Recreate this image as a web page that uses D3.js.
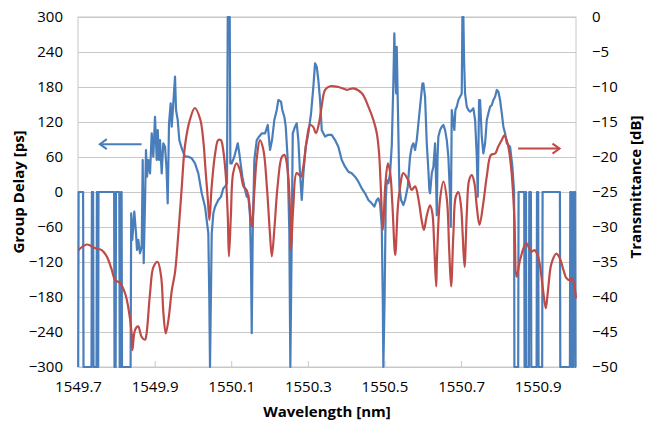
<!DOCTYPE html>
<html>
<head>
<meta charset="utf-8">
<script src="https://d3js.org/d3.v7.min.js"></script>
<style>
  body { margin: 0; background: #fff; }
  text { font-family: "Open Sans", sans-serif; fill: #000; }
</style>
</head>
<body>
<svg id="chart" width="651" height="426"></svg>
<script>
// tick labels
const xTicks = [1549.7, 1549.9, 1550.1, 1550.3, 1550.5, 1550.7, 1550.9];
const gdTicks = [-300, -240, -180, -120, -60, 0, 60, 120, 180, 240, 300];
const tTicks = [-50, -45, -40, -35, -30, -25, -20, -15, -10, -5, 0];

// transmittance [dB] (red, right axis)
const tWavelength = [
  1549.701, 1549.723, 1549.744, 1549.762, 1549.775, 1549.788, 1549.797, 1549.810, 1549.823, 1549.831,
  1549.840, 1549.842, 1549.849, 1549.857, 1549.866, 1549.875, 1549.879, 1549.888, 1549.897, 1549.908,
  1549.917, 1549.923, 1549.929, 1549.936, 1549.945, 1549.953, 1549.962, 1549.971, 1549.979, 1549.992,
  1550.005, 1550.019, 1550.027, 1550.033, 1550.039, 1550.043, 1550.049, 1550.058, 1550.066, 1550.073,
  1550.079, 1550.086, 1550.091, 1550.094, 1550.099, 1550.105, 1550.114, 1550.123, 1550.132, 1550.140,
  1550.146, 1550.154, 1550.160, 1550.167, 1550.175, 1550.184, 1550.193, 1550.201, 1550.206, 1550.213,
  1550.221, 1550.232, 1550.239, 1550.248, 1550.254, 1550.256, 1550.262, 1550.271, 1550.282, 1550.288,
  1550.297, 1550.306, 1550.314, 1550.321, 1550.329, 1550.336, 1550.345, 1550.358, 1550.380, 1550.402,
  1550.419, 1550.441, 1550.458, 1550.471, 1550.480, 1550.486, 1550.490, 1550.496, 1550.502, 1550.509,
  1550.515, 1550.521, 1550.528, 1550.535, 1550.541, 1550.549, 1550.562, 1550.571, 1550.580, 1550.589,
  1550.597, 1550.603, 1550.610, 1550.619, 1550.625, 1550.630, 1550.635, 1550.637, 1550.645, 1550.654,
  1550.663, 1550.669, 1550.674, 1550.680, 1550.686, 1550.693, 1550.700, 1550.704, 1550.709, 1550.715,
  1550.721, 1550.728, 1550.735, 1550.741, 1550.748, 1550.758, 1550.767, 1550.778, 1550.789, 1550.797,
  1550.806, 1550.813, 1550.819, 1550.825, 1550.832, 1550.839, 1550.845, 1550.854, 1550.870, 1550.883,
  1550.892, 1550.899, 1550.905, 1550.914, 1550.921, 1550.927, 1550.936, 1550.949, 1550.958, 1550.967,
  1550.975, 1550.984, 1550.990, 1550.996, 1551.000
];
const tValues = [
  -33.3, -32.5, -33.0, -33.3, -34.2, -36.1, -37.6, -38.0, -39.5, -41.4,
  -45.2, -47.6, -44.7, -44.2, -45.7, -46.1, -45.2, -39.5, -35.7, -35.0,
  -37.1, -42.3, -45.2, -43.3, -39.0, -36.6, -30.9, -24.2, -18.5, -14.7,
  -13.0, -14.6, -17.6, -21.9, -26.1, -29.0, -24.2, -19.5, -17.6, -17.6,
  -19.0, -22.8, -28.5, -34.2, -28.5, -22.3, -20.9, -21.9, -24.2, -24.7,
  -26.1, -30.0, -25.2, -20.0, -17.6, -19.0, -24.2, -30.9, -34.2, -30.0,
  -24.2, -20.0, -19.7, -22.3, -28.5, -33.3, -27.1, -22.3, -22.8, -21.4,
  -17.6, -15.4, -15.7, -16.6, -15.2, -12.8, -10.4, -9.9, -10.0, -10.4,
  -10.2, -10.9, -12.8, -14.7, -16.6, -19.5, -23.8, -30.4, -24.2, -20.9,
  -22.3, -27.1, -34.0, -27.1, -24.2, -22.3, -23.3, -24.7, -24.2, -26.1,
  -29.0, -30.4, -28.5, -26.9, -28.0, -32.8, -38.5, -34.7, -26.1, -23.5,
  -26.1, -33.3, -38.5, -30.9, -25.7, -25.0, -27.1, -30.9, -35.7, -28.0,
  -23.3, -22.6, -23.8, -27.1, -29.7, -26.6, -22.8, -19.7, -19.5, -18.5,
  -17.6, -16.9, -17.6, -19.0, -22.3, -28.5, -37.1, -34.7, -32.3, -33.5,
  -33.3, -33.9, -35.2, -39.0, -41.6, -39.0, -35.2, -33.8, -34.5, -36.1,
  -37.3, -37.6, -37.3, -38.5, -40.2
];

// group delay [ps] (blue, left axis)
const gdWavelength = [
  1549.7005, 1549.7016, 1549.7133, 1549.7144, 1549.7352, 1549.7363, 1549.7394, 1549.7405, 1549.7483, 1549.7493,
  1549.7512, 1549.7520, 1549.7527, 1549.7535, 1549.7943, 1549.7953, 1549.7982, 1549.7992, 1549.8078, 1549.8089,
  1549.8117, 1549.8128, 1549.8138, 1549.8149, 1549.8373, 1549.8389, 1549.8418, 1549.8470, 1549.8514, 1549.8540,
  1549.8574, 1549.8619, 1549.8663, 1549.8689, 1549.8715, 1549.8749, 1549.8775, 1549.8802, 1549.8836, 1549.8880,
  1549.8924, 1549.8966, 1549.9010, 1549.9055, 1549.9081, 1549.9115, 1549.9141, 1549.9185, 1549.9227, 1549.9272,
  1549.9311, 1549.9342, 1549.9376, 1549.9420, 1549.9446, 1549.9488, 1549.9533, 1549.9559, 1549.9603, 1549.9645,
  1549.9708, 1549.9794, 1549.9880, 1549.9969, 1550.0055, 1550.0141, 1550.0230, 1550.0316, 1550.0402, 1550.0428,
  1550.0446, 1550.0491, 1550.0533, 1550.0577, 1550.0663, 1550.0734, 1550.0794, 1550.0838, 1550.0890, 1550.0909,
  1550.0961, 1550.0977, 1550.1013, 1550.1081, 1550.1170, 1550.1211, 1550.1290, 1550.1342, 1550.1405, 1550.1446,
  1550.1491, 1550.1517, 1550.1535, 1550.1561, 1550.1603, 1550.1666, 1550.1726, 1550.1796, 1550.1883, 1550.1953,
  1550.2013, 1550.2065, 1550.2125, 1550.2188, 1550.2230, 1550.2300, 1550.2334, 1550.2386, 1550.2423, 1550.2470,
  1550.2517, 1550.2543, 1550.2580, 1550.2606, 1550.2666, 1550.2710, 1550.2752, 1550.2796, 1550.2841, 1550.2883,
  1550.2945, 1550.3013, 1550.3084, 1550.3144, 1550.3188, 1550.3232, 1550.3274, 1550.3319, 1550.3363, 1550.3449,
  1550.3535, 1550.3624, 1550.3710, 1550.3796, 1550.3885, 1550.3971, 1550.4057, 1550.4146, 1550.4232, 1550.4319,
  1550.4407, 1550.4493, 1550.4580, 1550.4668, 1550.4736, 1550.4799, 1550.4841, 1550.4885, 1550.4930, 1550.4956,
  1550.4971, 1550.5003, 1550.5034, 1550.5060, 1550.5102, 1550.5146, 1550.5191, 1550.5232, 1550.5258, 1550.5277,
  1550.5303, 1550.5321, 1550.5347, 1550.5389, 1550.5433, 1550.5493, 1550.5538, 1550.5608, 1550.5668, 1550.5713,
  1550.5755, 1550.5799, 1550.5843, 1550.5903, 1550.5956, 1550.5990, 1550.6016, 1550.6060, 1550.6104, 1550.6146,
  1550.6172, 1550.6191, 1550.6235, 1550.6277, 1550.6321, 1550.6347, 1550.6366, 1550.6386, 1550.6407, 1550.6452,
  1550.6496, 1550.6538, 1550.6582, 1550.6627, 1550.6668, 1550.6713, 1550.6731, 1550.6757, 1550.6791, 1550.6825,
  1550.6851, 1550.6888, 1550.6930, 1550.6974, 1550.7018, 1550.7034, 1550.7060, 1550.7078, 1550.7104, 1550.7149,
  1550.7191, 1550.7235, 1550.7279, 1550.7321, 1550.7366, 1550.7410, 1550.7436, 1550.7470, 1550.7496, 1550.7540,
  1550.7582, 1550.7627, 1550.7671, 1550.7713, 1550.7757, 1550.7802, 1550.7843, 1550.7888, 1550.7932, 1550.7974,
  1550.8018, 1550.8063, 1550.8104, 1550.8149, 1550.8193, 1550.8279, 1550.8339, 1550.8384, 1550.8392, 1550.8491,
  1550.8501, 1550.8648, 1550.8658, 1550.8679, 1550.8687, 1550.8695, 1550.8702, 1550.8770, 1550.8781, 1550.8822,
  1550.8833, 1550.8971, 1550.8982, 1550.9013, 1550.9023, 1550.9117, 1550.9128, 1550.9580, 1550.9590, 1550.9841,
  1550.9851, 1550.9885, 1550.9895, 1550.9927, 1550.9937, 1550.9977, 1550.9987, 1551.0000
];
const gdValues = [
  -300, 0, 0, -300, -300, 0, 0, -300, -300, 0,
  0, -300, -300, 0, 0, -300, -300, 0, 0, -300,
  -300, 0, 0, -300, -300, -36.5, -82, -33.7, -70.8, -99.4,
  -82, -105, -93.7, 54.9, -122, -19.4, 72, 26.3, 54.9, 32,
  100.6, 60.5, 129, 54.9, 106, 55, 89, 32, 83.5, 77.7,
  40, -19.4, 117.8, 152, 112, 152, 197.7, 140.6, 123.4, 89,
  75, 60.5, 60.5, 57.8, 49.2, 32, -2.2, -25.2, -70.8, -185,
  -300, -70.8, -36.5, -25.2, -13.7, -8, 6.3, 9.1, 15, 300,
  300, 49.2, 49, 60.5, 83.5, 66.3, 26.2, 9.1, -8, -5,
  -42.3, -128, -242, -70.8, 54.9, 89.1, 94.8, 100.6, 100.6, 114.9,
  72, 89, 123.4, 140.6, 157.7, 155, 140.6, 129.1, 112, 60,
  -70.8, -300, -70.8, 100.6, 112, 117.8, 89.1, 32, -13.7, 32,
  77.7, 100.6, 134.9, 180.5, 220.6, 214.8, 192, 157.7, 106, 95,
  98, 98, 89, 77.7, 54.9, 43.4, 34.8, 32, 26.2, 17.7,
  6.3, -2.2, -13.7, -19.4, -25.2, -13.7, -10.8, -19.4, -59.5, -185,
  -300, -185, -13.7, 20.6, 14.9, 32, 80, 186.3, 272, 220,
  169.2, 249, 157.7, 9.1, -13.7, -22.3, -13.7, 9.1, 60.5, 77.7,
  83.5, 72, 89, 129, 163.4, 186, 186.3, 163, 83.5, 37.7,
  3.4, -2, 32, 43.4, 83.5, 20, -40, 60, 94.8, 106.3,
  112, 115, 106, 89, 60.5, -8, -60, 140.6, 123, 106.3,
  140.6, 146.2, 157.7, 163.4, 169, 300, 300, 226.3, 169, 146.2,
  140.6, 137.7, 140.6, 143.5, 123.4, 60.5, -8, 157.7, 157.7, 94.8,
  66.3, 83.5, 123.4, 134.9, 146.2, 149.1, 157.7, 163.4, 174.9, 172,
  157.7, 134.9, 112, 100.6, 83.5, 77.7, 43.4, 0, -300, -300,
  0, 0, -300, -300, 0, 0, -300, -300, 0, 0,
  -300, -300, 0, 0, -300, -300, 0, 0, -300, -300,
  0, 0, -300, -300, 0, 0, -300, -300
];

const svg = d3.select("#chart");
const width = +svg.attr("width");
const height = +svg.attr("height");
const margin = { top: 17, right: 75, bottom: 59, left: 78 };
const chartWidth = width - margin.left - margin.right;
const chartHeight = height - margin.top - margin.bottom;

const xScale = d3.scaleLinear().domain([1549.7, 1551.0]).range([margin.left, margin.left + chartWidth]);
const yLeft = d3.scaleLinear().domain([-300, 300]).range([margin.top + chartHeight, margin.top]);
const yRight = d3.scaleLinear().domain([-50, 0]).range([margin.top + chartHeight, margin.top]);

// gridlines
const grid = svg.append("g")
  .attr("transform", `translate(${margin.left},0)`)
  .call(d3.axisLeft(yLeft).tickValues(gdTicks).tickSize(-chartWidth).tickFormat(""));
grid.select(".domain").remove();
grid.selectAll("line").attr("stroke", "#c8c8c8").attr("stroke-width", 1);

// plot border
svg.append("rect")
  .attr("x", margin.left).attr("y", margin.top)
  .attr("width", chartWidth).attr("height", chartHeight)
  .attr("fill", "none").attr("stroke", "#c8c8c8");

// left axis labels
const leftAxis = svg.append("g")
  .attr("transform", `translate(${margin.left},0)`)
  .call(d3.axisLeft(yLeft).tickValues(gdTicks).tickSize(0).tickPadding(15));
leftAxis.select(".domain").remove();
leftAxis.selectAll("text").style("font-size", "15px").attr("fill", "#000");

// right axis labels
const rightAxis = svg.append("g")
  .attr("transform", `translate(${margin.left + chartWidth},0)`)
  .call(d3.axisRight(yRight).tickValues(tTicks).tickSize(0).tickPadding(16));
rightAxis.select(".domain").remove();
rightAxis.selectAll("text").style("font-size", "15px").attr("fill", "#000");

// bottom axis
const bottomAxis = svg.append("g")
  .attr("transform", `translate(0,${margin.top + chartHeight})`)
  .call(d3.axisBottom(xScale).tickValues(xTicks).tickFormat(d3.format(".1f")).tickSizeInner(-6).tickSizeOuter(0).tickPadding(14));
bottomAxis.select(".domain").attr("stroke", "#c8c8c8");
bottomAxis.selectAll("line").attr("stroke", "#c8c8c8");
bottomAxis.selectAll("text").style("font-size", "15px").attr("fill", "#000");

// series
const gdData = gdWavelength.map((w, i) => [w, gdValues[i]]);
const tData = tWavelength.map((w, i) => [w, tValues[i]]);

svg.append("path")
  .datum(gdData)
  .attr("fill", "none")
  .attr("stroke", "#4a7ebb")
  .attr("stroke-width", 2.2)
  .attr("stroke-linejoin", "round")
  .attr("d", d3.line().x(d => xScale(d[0])).y(d => yLeft(d[1])));

svg.append("path")
  .datum(tData)
  .attr("fill", "none")
  .attr("stroke", "#be4b48")
  .attr("stroke-width", 2.2)
  .attr("d", d3.line().curve(d3.curveCatmullRom.alpha(0.5)).x(d => xScale(d[0])).y(d => yRight(d[1])));

// arrows pointing to each series' axis
function arrow(x1, x2, y, color, headLeft) {
  const g = svg.append("g").attr("stroke", color).attr("stroke-width", 2).attr("fill", "none");
  g.append("line").attr("x1", x1).attr("x2", x2).attr("y1", y).attr("y2", y);
  const hx = headLeft ? x1 : x2;
  const dir = headLeft ? 1 : -1;
  g.append("polyline").attr("points", `${hx + dir * 7},${y - 5} ${hx},${y} ${hx + dir * 7},${y + 5}`);
}
arrow(xScale(1549.757), xScale(1549.866), yLeft(82), "#4a7ebb", true);
arrow(xScale(1550.849), xScale(1550.957), yRight(-18.8), "#be4b48", false);

// axis titles
svg.append("text")
  .attr("transform", `translate(24,${margin.top + chartHeight / 2}) rotate(-90)`)
  .attr("text-anchor", "middle")
  .style("font-size", "15px").style("font-weight", "bold")
  .text("Group Delay [ps]");

svg.append("text")
  .attr("transform", `translate(641,${margin.top + chartHeight / 2 - 5}) rotate(-90)`)
  .attr("text-anchor", "middle")
  .style("font-size", "15px").style("font-weight", "bold")
  .text("Transmittance [dB]");

svg.append("text")
  .attr("x", margin.left + chartWidth / 2)
  .attr("y", 417)
  .attr("text-anchor", "middle")
  .style("font-size", "15px").style("font-weight", "bold")
  .text("Wavelength [nm]");
</script>
</body>
</html>
